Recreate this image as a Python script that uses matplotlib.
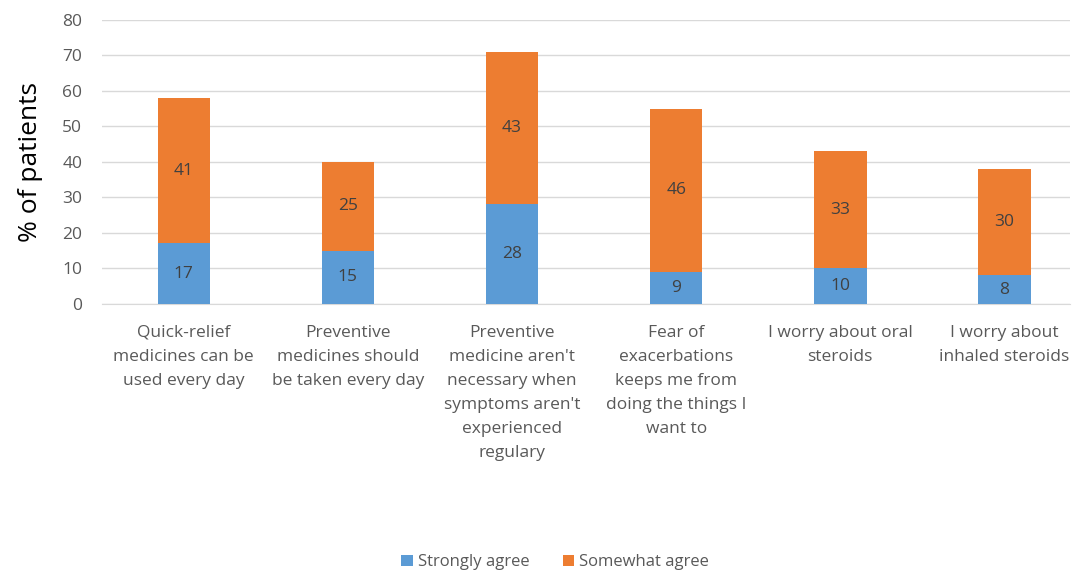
import numpy as np
import matplotlib.pyplot as plt

# data
CATEGORIES = [
    "Quick-relief\nmedicines can be\nused every day",
    "Preventive\nmedicines should\nbe taken every day",
    "Preventive\nmedicine aren't\nnecessary when\nsymptoms aren't\nexperienced\nregulary",
    "Fear of\nexacerbations\nkeeps me from\ndoing the things I\nwant to",
    "I worry about oral\nsteroids",
    "I worry about\ninhaled steroids",
]
STRONGLY = [17, 15, 28, 9, 10, 8]
SOMEWHAT = [41, 25, 43, 46, 33, 30]

BLUE = "#5B9BD5"
ORANGE = "#ED7D31"
GRAY = "#595959"

plt.rcParams["font.family"] = ["Open Sans", "DejaVu Sans"]

fig = plt.figure(figsize=(10.82, 5.71), dpi=100)
ax = fig.add_axes([0.094, 0.468, 0.895, 0.497])

x = np.arange(len(CATEGORIES))
w = 0.32
b1 = ax.bar(x, STRONGLY, w, color=BLUE, label="Strongly agree", zorder=3)
b2 = ax.bar(x, SOMEWHAT, w, bottom=STRONGLY, color=ORANGE, label="Somewhat agree", zorder=3)

for xi, s, m in zip(x, STRONGLY, SOMEWHAT):
    ax.text(xi, s / 2, str(s), ha="center", va="center", fontsize=12.5, color="#404040", zorder=4)
    ax.text(xi, s + m / 2, str(m), ha="center", va="center", fontsize=12.5, color="#404040", zorder=4)

ax.set_xlim(-0.5, 5.4)
ax.set_ylim(0, 80)
ax.set_yticks(range(0, 81, 10))
ax.yaxis.grid(True, color="#D9D9D9", linewidth=1, zorder=0)
ax.set_axisbelow(True)
for sp in ["top", "right", "left"]:
    ax.spines[sp].set_visible(False)
ax.spines["bottom"].set_color("#D9D9D9")
ax.tick_params(axis="both", length=0, colors=GRAY, labelsize=12.5)
ax.tick_params(axis="y", pad=14)
ax.tick_params(axis="x", pad=15)
ax.set_xticks(x)
ax.set_xticklabels(CATEGORIES, fontsize=12.5, color=GRAY, linespacing=1.68, va="top")
ax.set_ylabel("% of patients", fontsize=19, color="black")
ax.yaxis.set_label_coords(-0.061, 0.5)

fig.legend(handles=[b1, b2], loc="center", bbox_to_anchor=(0.513, 0.015), ncol=2,
           frameon=False, fontsize=12, labelcolor=GRAY, handlelength=0.7, handleheight=0.7,
           handletextpad=0.3, columnspacing=2.0)

fig.savefig("out.png", dpi=100)
